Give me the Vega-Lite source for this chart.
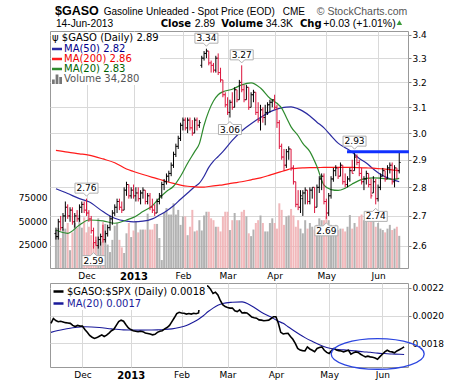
{
"$schema":"https://vega.github.io/schema/vega-lite/v6.json",
"padding":{"left":17,"top":4,"right":8,"bottom":4},
"background":"white",
"config":{"font":"DejaVu Sans","view":{"stroke":"#999999","strokeWidth":1},
 "axis":{"labelFont":"DejaVu Sans","labelFontSize":9,"labelColor":"#000000","gridColor":"#d9d9d9","gridWidth":1,"tickColor":"#888888","domain":false}},
"datasets":{
"px":[
{"i":1,"o":2.64,"h":2.66,"l":2.62,"c":2.63,"v":40500,"r":0.001945},
{"i":2,"o":2.63,"h":2.69,"l":2.62,"c":2.68,"v":42700,"r":0.00198},
{"i":3,"o":2.68,"h":2.70,"l":2.65,"c":2.66,"v":32000,"r":0.001965},
{"i":4,"o":2.66,"h":2.71,"l":2.65,"c":2.70,"v":42000,"r":0.001957},
{"i":5,"o":2.70,"h":2.75,"l":2.68,"c":2.73,"v":42000,"r":0.00196},
{"i":6,"o":2.73,"h":2.74,"l":2.69,"c":2.70,"v":48000,"r":0.001955},
{"i":7,"o":2.70,"h":2.73,"l":2.68,"c":2.72,"v":19000,"r":0.00195},
{"i":8,"o":2.72,"h":2.73,"l":2.67,"c":2.68,"v":38000,"r":0.001948},
{"i":9,"o":2.68,"h":2.71,"l":2.66,"c":2.70,"v":48000,"r":0.001945},
{"i":10,"o":2.70,"h":2.72,"l":2.68,"c":2.69,"v":43000,"r":0.00193},
{"i":11,"o":2.69,"h":2.74,"l":2.68,"c":2.73,"v":56600,"r":0.001922},
{"i":12,"o":2.73,"h":2.75,"l":2.71,"c":2.74,"v":43000,"r":0.00193},
{"i":13,"o":2.74,"h":2.75,"l":2.71,"c":2.72,"v":54000,"r":0.001925},
{"i":14,"o":2.72,"h":2.76,"l":2.70,"c":2.71,"v":38000,"r":0.001925},
{"i":15,"o":2.71,"h":2.72,"l":2.68,"c":2.69,"v":44000,"r":0.0019},
{"i":16,"o":2.69,"h":2.70,"l":2.64,"c":2.65,"v":35000,"r":0.00188},
{"i":17,"o":2.65,"h":2.66,"l":2.59,"c":2.61,"v":27000,"r":0.001858},
{"i":18,"o":2.61,"h":2.63,"l":2.60,"c":2.60,"v":30000,"r":0.001845},
{"i":19,"o":2.60,"h":2.63,"l":2.59,"c":2.62,"v":53000,"r":0.001836},
{"i":20,"o":2.62,"h":2.64,"l":2.60,"c":2.63,"v":28000,"r":0.001842},
{"i":21,"o":2.63,"h":2.67,"l":2.61,"c":2.62,"v":49000,"r":0.001852},
{"i":22,"o":2.62,"h":2.65,"l":2.61,"c":2.64,"v":47000,"r":0.001862},
{"i":23,"o":2.64,"h":2.67,"l":2.63,"c":2.66,"v":25000,"r":0.00185},
{"i":24,"o":2.66,"h":2.70,"l":2.65,"c":2.69,"v":17000,"r":0.00186},
{"i":25,"o":2.69,"h":2.72,"l":2.67,"c":2.71,"v":30000,"r":0.001875},
{"i":26,"o":2.71,"h":2.74,"l":2.70,"c":2.73,"v":45000,"r":0.001892},
{"i":27,"o":2.73,"h":2.76,"l":2.71,"c":2.75,"v":48000,"r":0.001902},
{"i":28,"o":2.75,"h":2.76,"l":2.72,"c":2.73,"v":30000,"r":0.00193},
{"i":29,"o":2.73,"h":2.75,"l":2.71,"c":2.72,"v":22000,"r":0.001957},
{"i":30,"o":2.72,"h":2.80,"l":2.72,"c":2.79,"v":16000,"r":0.001968},
{"i":31,"o":2.79,"h":2.82,"l":2.77,"c":2.81,"v":37000,"r":0.00196},
{"i":32,"o":2.81,"h":2.81,"l":2.76,"c":2.77,"v":48000,"r":0.001935},
{"i":33,"o":2.77,"h":2.80,"l":2.76,"c":2.79,"v":33000,"r":0.001912},
{"i":34,"o":2.79,"h":2.81,"l":2.76,"c":2.77,"v":40000,"r":0.0019},
{"i":35,"o":2.77,"h":2.80,"l":2.75,"c":2.78,"v":50000,"r":0.001892},
{"i":36,"o":2.78,"h":2.80,"l":2.75,"c":2.76,"v":38000,"r":0.001888},
{"i":37,"o":2.76,"h":2.79,"l":2.74,"c":2.78,"v":41000,"r":0.001884},
{"i":38,"o":2.78,"h":2.80,"l":2.76,"c":2.79,"v":41000,"r":0.001888},
{"i":39,"o":2.79,"h":2.79,"l":2.74,"c":2.75,"v":41000,"r":0.001885},
{"i":40,"o":2.75,"h":2.78,"l":2.74,"c":2.77,"v":58000,"r":0.001875},
{"i":41,"o":2.77,"h":2.78,"l":2.72,"c":2.73,"v":41000,"r":0.001872},
{"i":42,"o":2.73,"h":2.76,"l":2.71,"c":2.72,"v":41000,"r":0.001868},
{"i":43,"o":2.72,"h":2.74,"l":2.70,"c":2.71,"v":47000,"r":0.001862},
{"i":44,"o":2.71,"h":2.76,"l":2.71,"c":2.75,"v":47000,"r":0.001866},
{"i":45,"o":2.75,"h":2.78,"l":2.74,"c":2.77,"v":32000,"r":0.00188},
{"i":46,"o":2.77,"h":2.82,"l":2.76,"c":2.81,"v":8500,"r":0.001888},
{"i":47,"o":2.81,"h":2.83,"l":2.79,"c":2.82,"v":59000,"r":0.001892},
{"i":48,"o":2.82,"h":2.85,"l":2.81,"c":2.84,"v":64000,"r":0.001905},
{"i":49,"o":2.84,"h":2.86,"l":2.82,"c":2.85,"v":57000,"r":0.001915},
{"i":50,"o":2.85,"h":2.89,"l":2.84,"c":2.88,"v":57000,"r":0.00193},
{"i":51,"o":2.88,"h":2.93,"l":2.87,"c":2.92,"v":69000,"r":0.001957},
{"i":52,"o":2.92,"h":2.96,"l":2.91,"c":2.95,"v":57000,"r":0.001985},
{"i":53,"o":2.95,"h":2.99,"l":2.94,"c":2.98,"v":62000,"r":0.002015},
{"i":54,"o":2.98,"h":3.04,"l":2.97,"c":3.03,"v":46000,"r":0.002025},
{"i":55,"o":3.03,"h":3.06,"l":3.01,"c":3.05,"v":55000,"r":0.00202},
{"i":56,"o":3.05,"h":3.06,"l":3.01,"c":3.02,"v":55000,"r":0.002018},
{"i":57,"o":3.02,"h":3.06,"l":3.00,"c":3.05,"v":35000,"r":0.002012},
{"i":58,"o":3.05,"h":3.06,"l":3.01,"c":3.02,"v":44000,"r":0.002016},
{"i":59,"o":3.02,"h":3.05,"l":2.99,"c":3.00,"v":62000,"r":0.002012},
{"i":60,"o":3.00,"h":3.06,"l":3.00,"c":3.05,"v":39000,"r":0.002018},
{"i":61,"o":3.05,"h":3.06,"l":3.01,"c":3.03,"v":40000,"r":0.002014},
{"i":62,"o":3.03,"h":3.05,"l":3.02,"c":3.04,"v":51000,"r":0.00202},
{"i":63,"o":3.27,"h":3.31,"l":3.26,"c":3.30,"v":40000,"r":0.00214},
{"i":64,"o":3.30,"h":3.33,"l":3.29,"c":3.32,"v":56000,"r":0.002195},
{"i":65,"o":3.32,"h":3.34,"l":3.30,"c":3.33,"v":60000,"r":0.00222},
{"i":66,"o":3.33,"h":3.33,"l":3.27,"c":3.28,"v":60000,"r":0.002212},
{"i":67,"o":3.28,"h":3.29,"l":3.24,"c":3.27,"v":53000,"r":0.00219},
{"i":68,"o":3.27,"h":3.28,"l":3.24,"c":3.25,"v":51000,"r":0.00216},
{"i":69,"o":3.25,"h":3.31,"l":3.24,"c":3.30,"v":44000,"r":0.00217},
{"i":70,"o":3.30,"h":3.32,"l":3.23,"c":3.24,"v":44000,"r":0.00215},
{"i":71,"o":3.24,"h":3.26,"l":3.20,"c":3.21,"v":39000,"r":0.00211},
{"i":72,"o":3.21,"h":3.21,"l":3.14,"c":3.15,"v":55000,"r":0.002079},
{"i":73,"o":3.15,"h":3.16,"l":3.10,"c":3.11,"v":60000,"r":0.002066},
{"i":74,"o":3.11,"h":3.14,"l":3.07,"c":3.08,"v":60000,"r":0.00206},
{"i":75,"o":3.08,"h":3.13,"l":3.06,"c":3.12,"v":40500,"r":0.002055},
{"i":76,"o":3.12,"h":3.16,"l":3.09,"c":3.10,"v":51000,"r":0.002055},
{"i":77,"o":3.10,"h":3.18,"l":3.10,"c":3.17,"v":58700,"r":0.002035},
{"i":78,"o":3.17,"h":3.17,"l":3.12,"c":3.13,"v":51000,"r":0.00203},
{"i":79,"o":3.13,"h":3.21,"l":3.13,"c":3.20,"v":51000,"r":0.002042},
{"i":80,"o":3.20,"h":3.27,"l":3.16,"c":3.17,"v":60000,"r":0.00202},
{"i":81,"o":3.17,"h":3.19,"l":3.12,"c":3.13,"v":62000,"r":0.002022},
{"i":82,"o":3.13,"h":3.19,"l":3.13,"c":3.18,"v":55000,"r":0.00202},
{"i":83,"o":3.18,"h":3.18,"l":3.09,"c":3.10,"v":37000,"r":0.002006},
{"i":84,"o":3.10,"h":3.16,"l":3.10,"c":3.15,"v":34000,"r":0.00199},
{"i":85,"o":3.15,"h":3.17,"l":3.12,"c":3.16,"v":41000,"r":0.001985},
{"i":86,"o":3.16,"h":3.16,"l":3.07,"c":3.08,"v":48000,"r":0.001982},
{"i":87,"o":3.08,"h":3.12,"l":3.04,"c":3.05,"v":51000,"r":0.00197},
{"i":88,"o":3.05,"h":3.11,"l":3.01,"c":3.09,"v":56000,"r":0.001968},
{"i":89,"o":3.09,"h":3.10,"l":3.04,"c":3.06,"v":48000,"r":0.001964},
{"i":90,"o":3.06,"h":3.11,"l":3.03,"c":3.08,"v":39000,"r":0.001966},
{"i":91,"o":3.08,"h":3.12,"l":3.07,"c":3.11,"v":39000,"r":0.001968},
{"i":92,"o":3.11,"h":3.13,"l":3.08,"c":3.12,"v":48000,"r":0.00198},
{"i":93,"o":3.12,"h":3.13,"l":3.10,"c":3.13,"v":53000,"r":0.001993},
{"i":94,"o":3.13,"h":3.15,"l":3.09,"c":3.10,"v":48000,"r":0.001993},
{"i":95,"o":3.10,"h":3.11,"l":3.02,"c":3.04,"v":42000,"r":0.001945},
{"i":96,"o":3.04,"h":3.05,"l":2.94,"c":2.95,"v":69000,"r":0.00188},
{"i":97,"o":2.95,"h":2.96,"l":2.90,"c":2.91,"v":62000,"r":0.001868},
{"i":98,"o":2.91,"h":2.94,"l":2.86,"c":2.88,"v":46000,"r":0.001872},
{"i":99,"o":2.88,"h":2.94,"l":2.87,"c":2.93,"v":55000,"r":0.001873},
{"i":100,"o":2.93,"h":2.95,"l":2.90,"c":2.94,"v":56000,"r":0.00185},
{"i":101,"o":2.94,"h":2.94,"l":2.86,"c":2.87,"v":63000,"r":0.00183},
{"i":102,"o":2.87,"h":2.88,"l":2.81,"c":2.82,"v":56000,"r":0.0018},
{"i":103,"o":2.82,"h":2.82,"l":2.73,"c":2.74,"v":44000,"r":0.001764},
{"i":104,"o":2.74,"h":2.79,"l":2.72,"c":2.73,"v":51000,"r":0.001752},
{"i":105,"o":2.73,"h":2.79,"l":2.71,"c":2.77,"v":42000,"r":0.001748},
{"i":106,"o":2.76,"h":2.79,"l":2.70,"c":2.78,"v":37000,"r":0.001746},
{"i":107,"o":2.78,"h":2.80,"l":2.74,"c":2.79,"v":51000,"r":0.001775},
{"i":108,"o":2.79,"h":2.79,"l":2.74,"c":2.75,"v":42000,"r":0.00176},
{"i":109,"o":2.75,"h":2.80,"l":2.74,"c":2.79,"v":48000,"r":0.001751},
{"i":110,"o":2.79,"h":2.80,"l":2.76,"c":2.80,"v":44000,"r":0.00174},
{"i":111,"o":2.80,"h":2.80,"l":2.71,"c":2.73,"v":41000,"r":0.001764},
{"i":112,"o":2.73,"h":2.81,"l":2.73,"c":2.80,"v":46000,"r":0.00177},
{"i":113,"o":2.80,"h":2.84,"l":2.78,"c":2.83,"v":53000,"r":0.001775},
{"i":114,"o":2.83,"h":2.85,"l":2.79,"c":2.84,"v":51000,"r":0.001751},
{"i":115,"o":2.84,"h":2.85,"l":2.74,"c":2.75,"v":51000,"r":0.001735},
{"i":116,"o":2.75,"h":2.76,"l":2.69,"c":2.71,"v":55000,"r":0.001727},
{"i":117,"o":2.71,"h":2.78,"l":2.70,"c":2.77,"v":51000,"r":0.001748},
{"i":118,"o":2.77,"h":2.84,"l":2.76,"c":2.83,"v":46000,"r":0.001764},
{"i":119,"o":2.83,"h":2.87,"l":2.82,"c":2.86,"v":42000,"r":0.001752},
{"i":120,"o":2.86,"h":2.88,"l":2.84,"c":2.87,"v":46000,"r":0.001748},
{"i":121,"o":2.87,"h":2.87,"l":2.83,"c":2.84,"v":40500,"r":0.001746},
{"i":122,"o":2.84,"h":2.89,"l":2.84,"c":2.88,"v":42000,"r":0.001739},
{"i":123,"o":2.88,"h":2.88,"l":2.81,"c":2.82,"v":42000,"r":0.001745},
{"i":124,"o":2.82,"h":2.85,"l":2.80,"c":2.81,"v":39000,"r":0.001751},
{"i":125,"o":2.81,"h":2.84,"l":2.80,"c":2.83,"v":44000,"r":0.001722},
{"i":126,"o":2.83,"h":2.87,"l":2.82,"c":2.86,"v":56500,"r":0.001732},
{"i":127,"o":2.86,"h":2.90,"l":2.85,"c":2.85,"v":42000,"r":0.001739},
{"i":128,"o":2.86,"h":2.93,"l":2.86,"c":2.91,"v":48000,"r":0.001735},
{"i":129,"o":2.91,"h":2.92,"l":2.88,"c":2.89,"v":44000,"r":0.001722},
{"i":130,"o":2.89,"h":2.90,"l":2.84,"c":2.85,"v":55000,"r":0.001712},
{"i":131,"o":2.85,"h":2.87,"l":2.81,"c":2.82,"v":57000,"r":0.001703},
{"i":132,"o":2.82,"h":2.84,"l":2.79,"c":2.83,"v":51000,"r":0.001708},
{"i":133,"o":2.83,"h":2.86,"l":2.81,"c":2.85,"v":53000,"r":0.001703},
{"i":134,"o":2.85,"h":2.85,"l":2.80,"c":2.81,"v":49000,"r":0.0017},
{"i":135,"o":2.81,"h":2.83,"l":2.76,"c":2.77,"v":51000,"r":0.001695},
{"i":136,"o":2.78,"h":2.84,"l":2.78,"c":2.82,"v":57000,"r":0.001686},
{"i":137,"o":2.82,"h":2.83,"l":2.74,"c":2.76,"v":44000,"r":0.001705},
{"i":138,"o":2.76,"h":2.81,"l":2.75,"c":2.80,"v":48000,"r":0.001722},
{"i":139,"o":2.80,"h":2.85,"l":2.79,"c":2.84,"v":42000,"r":0.001739},
{"i":140,"o":2.84,"h":2.87,"l":2.84,"c":2.86,"v":40500,"r":0.001751},
{"i":141,"o":2.86,"h":2.86,"l":2.82,"c":2.83,"v":38000,"r":0.001742},
{"i":142,"o":2.83,"h":2.88,"l":2.83,"c":2.87,"v":42000,"r":0.001739},
{"i":143,"o":2.87,"h":2.89,"l":2.85,"c":2.88,"v":46000,"r":0.001732},
{"i":144,"o":2.88,"h":2.89,"l":2.81,"c":2.82,"v":40500,"r":0.001746},
{"i":145,"o":2.82,"h":2.88,"l":2.80,"c":2.87,"v":42000,"r":0.001755},
{"i":146,"o":2.87,"h":2.87,"l":2.83,"c":2.86,"v":44000,"r":0.001764},
{"i":147,"o":2.86,"h":2.93,"l":2.85,"c":2.89,"v":34280,"r":0.001775}
],
"ma":[
{"i":1,"m50":2.795,"m200":2.935,"m20":2.652,"rm":0.00188},
{"i":6,"m50":2.778,"m200":2.928,"m20":2.641,"rm":0.0019},
{"i":11,"m50":2.76,"m200":2.922,"m20":2.669,"rm":0.001915},
{"i":15,"m50":2.749,"m200":2.917,"m20":2.686,"rm":0.00192},
{"i":21,"m50":2.715,"m200":2.903,"m20":2.683,"rm":0.001915},
{"i":26,"m50":2.692,"m200":2.889,"m20":2.675,"rm":0.001905},
{"i":31,"m50":2.682,"m200":2.866,"m20":2.686,"rm":0.001898},
{"i":34,"m50":2.68,"m200":2.857,"m20":2.695,"rm":0.001897},
{"i":38,"m50":2.682,"m200":2.846,"m20":2.715,"rm":0.001896},
{"i":42,"m50":2.69,"m200":2.836,"m20":2.735,"rm":0.001897},
{"i":45,"m50":2.703,"m200":2.829,"m20":2.762,"rm":0.001898},
{"i":48,"m50":2.717,"m200":2.821,"m20":2.785,"rm":0.0019},
{"i":51,"m50":2.735,"m200":2.814,"m20":2.804,"rm":0.001905},
{"i":54,"m50":2.758,"m200":2.808,"m20":2.84,"rm":0.001915},
{"i":57,"m50":2.78,"m200":2.804,"m20":2.887,"rm":0.00193},
{"i":60,"m50":2.802,"m200":2.802,"m20":2.93,"rm":0.001955},
{"i":62,"m50":2.815,"m200":2.801,"m20":2.96,"rm":0.001975},
{"i":64,"m50":2.84,"m200":2.801,"m20":3.03,"rm":0.002},
{"i":66,"m50":2.872,"m200":2.803,"m20":3.085,"rm":0.00203},
{"i":68,"m50":2.895,"m200":2.805,"m20":3.125,"rm":0.002055},
{"i":70,"m50":2.912,"m200":2.807,"m20":3.15,"rm":0.002075},
{"i":72,"m50":2.93,"m200":2.809,"m20":3.162,"rm":0.002088},
{"i":76,"m50":2.972,"m200":2.815,"m20":3.172,"rm":0.002097},
{"i":80,"m50":3.008,"m200":2.82,"m20":3.19,"rm":0.0021},
{"i":84,"m50":3.036,"m200":2.827,"m20":3.198,"rm":0.00207},
{"i":88,"m50":3.06,"m200":2.834,"m20":3.177,"rm":0.002025},
{"i":92,"m50":3.082,"m200":2.844,"m20":3.136,"rm":0.00199},
{"i":95,"m50":3.093,"m200":2.852,"m20":3.116,"rm":0.00196},
{"i":97,"m50":3.098,"m200":2.857,"m20":3.097,"rm":0.001945},
{"i":99,"m50":3.101,"m200":2.862,"m20":3.06,"rm":0.00192},
{"i":101,"m50":3.102,"m200":2.867,"m20":3.024,"rm":0.001897},
{"i":104,"m50":3.094,"m200":2.869,"m20":2.99,"rm":0.001862},
{"i":106,"m50":3.085,"m200":2.87,"m20":2.961,"rm":0.001842},
{"i":109,"m50":3.066,"m200":2.871,"m20":2.93,"rm":0.001815},
{"i":112,"m50":3.042,"m200":2.871,"m20":2.875,"rm":0.00179},
{"i":115,"m50":3.02,"m200":2.872,"m20":2.808,"rm":0.00177},
{"i":118,"m50":2.99,"m200":2.872,"m20":2.792,"rm":0.00176},
{"i":121,"m50":2.962,"m200":2.872,"m20":2.789,"rm":0.001755},
{"i":124,"m50":2.945,"m200":2.872,"m20":2.797,"rm":0.00175},
{"i":127,"m50":2.928,"m200":2.872,"m20":2.812,"rm":0.001746},
{"i":130,"m50":2.905,"m200":2.871,"m20":2.825,"rm":0.00174},
{"i":133,"m50":2.888,"m200":2.87,"m20":2.832,"rm":0.001736},
{"i":136,"m50":2.866,"m200":2.869,"m20":2.834,"rm":0.00173},
{"i":139,"m50":2.847,"m200":2.867,"m20":2.833,"rm":0.001727},
{"i":142,"m50":2.834,"m200":2.865,"m20":2.83,"rm":0.001724},
{"i":145,"m50":2.825,"m200":2.862,"m20":2.829,"rm":0.001722},
{"i":147,"m50":2.82,"m200":2.86,"m20":2.832,"rm":0.00172}
],
"hi":[{"i":65,"p":3.34,"t":"3.34"},{"i":80,"p":3.27,"t":"3.27"},{"i":128,"p":2.93,"t":"2.93"},{"i":14,"p":2.76,"t":"2.76"}],
"lo":[{"i":75,"p":3.06,"t":"3.06"},{"i":17,"p":2.59,"t":"2.59"},{"i":116,"p":2.69,"t":"2.69"},{"i":137,"p":2.74,"t":"2.74"}],
"res":[{"a":124.8,"b":151.1,"p":2.93}]
},
"spacing":15,
"bounds":"flush",
"resolve":{"scale":{"color":"independent"},"legend":{"color":"independent"}},
"vconcat":[
{
"width":358,"height":237,
"data":{"name":"px"},
"transform":[{"window":[{"op":"lag","field":"c","as":"pc"}],"sort":[{"field":"i","order":"ascending"}]}],
"resolve":{"scale":{"y":"independent"},"axis":{"y":"independent"}},
"layer":[
{
"mark":{"type":"bar","width":2,"orient":"vertical","opacity":0.9},
"encoding":{
"x":{"field":"i","type":"quantitative","title":null,"scale":{"domain":[0.6,148.6],"nice":false,"zero":false},
 "axis":{"orient":"bottom","values":[14,34,55,74,94,116,138],"labelExpr":"datum.value == 14 ? 'Dec' : datum.value == 34 ? '2013' : datum.value == 55 ? 'Feb' : datum.value == 74 ? 'Mar' : datum.value == 94 ? 'Apr' : datum.value == 116 ? 'May' : 'Jun'","grid":true,"ticks":false,"tickSize":0,"labelPadding":3,"domain":false,"labelFlush":false,"labelOverlap":false,"labelFontWeight":{"condition":{"test":"datum.value == 34","value":"bold"},"value":"normal"},"labelFontSize":{"condition":{"test":"datum.value == 34","value":10},"value":9},"title":null}},
"y":{"field":"v","type":"quantitative","title":null,"stack":null,"scale":{"domain":[0,252800],"nice":false},
 "axis":{"orient":"left","values":[25000,50000,75000],"format":"d","grid":false,"ticks":false,"tickSize":0,"labelPadding":3,"domain":false,"title":null}},
"color":{"condition":{"test":"datum.c >= datum.pc","value":"#aaaaaa"},"value":"#efb0b4"}
}
},
{
"layer":[
{
"data":{"name":"ma"},
"mark":{"type":"line","strokeWidth":1.2,"interpolate":"monotone"},
"encoding":{
"x":{"field":"i","type":"quantitative","title":null},
"y":{"field":"m50","type":"quantitative","title":null,"scale":{"type":"log","domain":[2.527,3.416],"nice":false,"zero":false},
 "axis":{"orient":"right","values":[2.6,2.7,2.8,2.9,3.0,3.1,3.2,3.3,3.4],"format":".1f","grid":true,"tickSize":3,"labelPadding":1,"domain":false,"title":null,"labelOverlap":false,"labelFlush":false}},
"color":{"datum":"MA(50) 2.82","scale":{"domain":["MA(50) 2.82","MA(200) 2.86","MA(20) 2.83","Volume 34,280"],"range":["#2a2aa0","#ff1a1a","#2e8b2e","#999999"]},
 "legend":{"orient":"top-left","title":"\u03c8 $GASO (Daily) 2.89","titleFont":"DejaVu Sans","titleFontSize":10,"titleFontWeight":"normal","titleColor":"#000000","titlePadding":1,"labelFont":"DejaVu Sans","labelFontSize":10,"symbolType":"stroke","symbolSize":100,"symbolStrokeWidth":2.5,"rowPadding":0,"labelOffset":2,"offset":1,"padding":1,"fillColor":"white",
  "encode":{"labels":{"update":{"fill":{"signal":"datum.value === 'MA(50) 2.82' ? '#00008b' : datum.value === 'MA(200) 2.86' ? '#ee0000' : datum.value === 'MA(20) 2.83' ? '#006400' : '#555555'"}}},
   "symbols":{"update":{"shape":{"signal":"datum.value === 'Volume 34,280' ? 'M-1,1V0.1H-0.45V1ZM-0.28,1V-0.9H0.28V1ZM0.45,1V-0.4H1V1Z' : 'stroke'"},"fill":{"signal":"datum.value === 'Volume 34,280' ? '#777777' : 'transparent'"},"strokeWidth":{"signal":"datum.value === 'Volume 34,280' ? 0 : 2.5"}}}}}}
}
},
{"data":{"name":"ma"},"mark":{"type":"line","strokeWidth":1.2,"interpolate":"monotone"},
 "encoding":{"x":{"field":"i","type":"quantitative","title":null},"y":{"field":"m200","type":"quantitative","title":null},"color":{"datum":"MA(200) 2.86"}}},
{"data":{"name":"ma"},"mark":{"type":"line","strokeWidth":1.2,"interpolate":"monotone"},
 "encoding":{"x":{"field":"i","type":"quantitative","title":null},"y":{"field":"m20","type":"quantitative","title":null},"color":{"datum":"MA(20) 2.83"}}},
{"mark":{"type":"rule","strokeWidth":1},
 "encoding":{"x":{"field":"i","type":"quantitative","title":null},"y":{"field":"l","type":"quantitative","title":null},"y2":{"field":"h"},
  "color":{"condition":{"test":"datum.c >= datum.pc","value":"#000000"},"value":"#dc143c"}}},
{"mark":{"type":"rule","strokeWidth":1,"xOffset":-1.4,"x2Offset":0},
 "encoding":{"x":{"field":"i","type":"quantitative","title":null},"x2":{"field":"i"},"y":{"field":"o","type":"quantitative","title":null},
  "color":{"condition":{"test":"datum.c >= datum.pc","value":"#000000"},"value":"#dc143c"}}},
{"mark":{"type":"rule","strokeWidth":1,"xOffset":0,"x2Offset":1.4},
 "encoding":{"x":{"field":"i","type":"quantitative","title":null},"x2":{"field":"i"},"y":{"field":"c","type":"quantitative","title":null},
  "color":{"condition":{"test":"datum.c >= datum.pc","value":"#000000"},"value":"#dc143c"}}},
{"data":{"name":"res"},"mark":{"type":"rule","strokeWidth":3,"color":"#1030ff"},
 "encoding":{"x":{"field":"a","type":"quantitative","title":null},"x2":{"field":"b"},"y":{"field":"p","type":"quantitative","title":null}}},
{"data":{"name":"hi"},"mark":{"type":"point","shape":"M-1,-0.435H1V0.435H0.26L0,0.7L-0.26,0.435H-1Z","size":529,"filled":true,"fill":"#ffffff","stroke":"#b0b0b0","strokeWidth":1,"opacity":1,"yOffset":-10.5},
 "encoding":{"x":{"field":"i","type":"quantitative","title":null},"y":{"field":"p","type":"quantitative","title":null}}},
{"data":{"name":"hi"},"mark":{"type":"text","font":"DejaVu Sans","fontSize":9,"baseline":"middle","align":"center","dy":-10.5,"color":"#000000"},
 "encoding":{"x":{"field":"i","type":"quantitative","title":null},"y":{"field":"p","type":"quantitative","title":null},"text":{"field":"t"}}},
{"data":{"name":"lo"},"mark":{"type":"point","shape":"M-1,0.435H1V-0.435H0.26L0,-0.7L-0.26,-0.435H-1Z","size":529,"filled":true,"fill":"#ffffff","stroke":"#b0b0b0","strokeWidth":1,"opacity":1,"yOffset":12},
 "encoding":{"x":{"field":"i","type":"quantitative","title":null},"y":{"field":"p","type":"quantitative","title":null}}},
{"data":{"name":"lo"},"mark":{"type":"text","font":"DejaVu Sans","fontSize":9,"baseline":"middle","align":"center","dy":12,"color":"#000000"},
 "encoding":{"x":{"field":"i","type":"quantitative","title":null},"y":{"field":"p","type":"quantitative","title":null},"text":{"field":"t"}}},
{"data":{"values":[{}]},"mark":{"type":"text","font":"Liberation Sans","fontSize":12.5,"fontWeight":"bold","align":"left","baseline":"alphabetic","color":"#000000","text":"$GASO"},
 "encoding":{"x":{"datum":0.6},"y":{"datum":3.4863}}},
{"data":{"values":[{}]},"mark":{"type":"text","font":"Liberation Sans","fontSize":10.2,"align":"left","baseline":"alphabetic","color":"#000000","text":"14-Jun-2013"},
 "encoding":{"x":{"datum":1.0},"y":{"datum":3.4348}}},
{"data":{"values":[{}]},"mark":{"type":"text","font":"Liberation Sans","fontSize":10,"align":"left","baseline":"alphabetic","color":"#000000","text":"Gasoline Unleaded - Spot Price (EOD)"},
 "encoding":{"x":{"datum":21.3},"y":{"datum":3.488}}},
{"data":{"values":[{}]},"mark":{"type":"text","font":"Liberation Sans","fontSize":10,"align":"left","baseline":"alphabetic","color":"#000000","text":"CME"},
 "encoding":{"x":{"datum":97.46},"y":{"datum":3.488}}},
{"data":{"values":[{}]},"mark":{"type":"text","font":"Liberation Sans","fontSize":10.5,"align":"left","baseline":"alphabetic","color":"#555555","text":"\u00a9 StockCharts.com"},
 "encoding":{"x":{"datum":111.93},"y":{"datum":3.488}}},
{"data":{"values":[{}]},"mark":{"type":"text","font":"DejaVu Sans","fontSize":10,"fontWeight":"bold","align":"left","baseline":"alphabetic","color":"#000000","text":"Close"},
 "encoding":{"x":{"datum":45.54},"y":{"datum":3.4348}}},
{"data":{"values":[{}]},"mark":{"type":"text","font":"Liberation Sans","fontSize":10.5,"align":"left","baseline":"alphabetic","color":"#000000","text":"2.89"},
 "encoding":{"x":{"datum":60.0},"y":{"datum":3.4348}}},
{"data":{"values":[{}]},"mark":{"type":"text","font":"DejaVu Sans","fontSize":10,"fontWeight":"bold","align":"left","baseline":"alphabetic","color":"#000000","text":"Volume"},
 "encoding":{"x":{"datum":71.29},"y":{"datum":3.4348}}},
{"data":{"values":[{}]},"mark":{"type":"text","font":"Liberation Sans","fontSize":10.5,"align":"left","baseline":"alphabetic","color":"#000000","text":"34.3K"},
 "encoding":{"x":{"datum":90.18},"y":{"datum":3.4348}}},
{"data":{"values":[{}]},"mark":{"type":"text","font":"DejaVu Sans","fontSize":10,"fontWeight":"bold","align":"left","baseline":"alphabetic","color":"#000000","text":"Chg"},
 "encoding":{"x":{"datum":104.78},"y":{"datum":3.4348}}},
{"data":{"values":[{}]},"mark":{"type":"text","font":"Liberation Sans","fontSize":10.5,"align":"left","baseline":"alphabetic","color":"#000000","text":"+0.03 (+1.01%)"},
 "encoding":{"x":{"datum":114.7},"y":{"datum":3.4348}}},
{"data":{"values":[{}]},"mark":{"type":"point","shape":"triangle-up","size":30,"filled":true,"color":"#3a9a3a","opacity":1},
 "encoding":{"x":{"datum":147.07},"y":{"datum":3.4523}}}
]
}
]
},
{
"width":358,"height":84,
"layer":[
{"data":{"name":"ma"},"mark":{"type":"line","strokeWidth":1.1,"interpolate":"monotone"},
 "encoding":{
 "x":{"field":"i","type":"quantitative","title":null,"scale":{"domain":[0.6,148.6],"nice":false,"zero":false},
  "axis":{"orient":"bottom","values":[14,34,55,74,94,116,138],"labelExpr":"datum.value == 14 ? 'Dec' : datum.value == 34 ? '2013' : datum.value == 55 ? 'Feb' : datum.value == 74 ? 'Mar' : datum.value == 94 ? 'Apr' : datum.value == 116 ? 'May' : 'Jun'","grid":true,"ticks":false,"tickSize":0,"labelPadding":3,"domain":false,"labelFlush":false,"labelOverlap":false,"labelFontWeight":{"condition":{"test":"datum.value == 34","value":"bold"},"value":"normal"},"labelFontSize":{"condition":{"test":"datum.value == 34","value":10},"value":9},"title":null}},
 "y":{"field":"rm","type":"quantitative","title":null,"scale":{"domain":[0.00163,0.002236],"nice":false,"zero":false},
  "axis":{"orient":"right","values":[0.0018,0.002,0.0022],"format":".4f","grid":true,"tickSize":3,"labelPadding":1,"domain":false,"title":null,"labelOverlap":false,"labelFlush":false}},
 "color":{"datum":"MA(20) 0.0017","scale":{"domain":["$GASO:$SPX (Daily) 0.0018","MA(20) 0.0017"],"range":["#000000","#1a1a9a"]},
  "legend":{"orient":"top-left","title":null,"labelFont":"DejaVu Sans","labelFontSize":10,"symbolType":"stroke","symbolSize":100,"symbolStrokeWidth":2.5,"rowPadding":0,"labelOffset":2,"offset":1,"padding":1,"fillColor":"white",
   "encode":{"labels":{"update":{"fill":{"signal":"datum.value === 'MA(20) 0.0017' ? '#1a1a9a' : '#000000'"}}}}}}
 }},
{"data":{"name":"px"},"mark":{"type":"line","strokeWidth":1.6},
 "encoding":{"x":{"field":"i","type":"quantitative","title":null},"y":{"field":"r","type":"quantitative","title":null},"color":{"datum":"$GASO:$SPX (Daily) 0.0018"}}},
{"data":{"values":[{}]},"mark":{"type":"point","shape":"M-1,0C-1,-0.182,-0.552,-0.33,0,-0.33C0.552,-0.33,1,-0.182,1,0C1,0.182,0.552,0.33,0,0.33C-0.552,0.33,-1,0.182,-1,0Z","size":8649,"filled":false,"stroke":"#2b45e0","strokeWidth":1.3,"opacity":1},
 "encoding":{"x":{"datum":136.07},"y":{"datum":0.0017244}}}
]
}
]
}
